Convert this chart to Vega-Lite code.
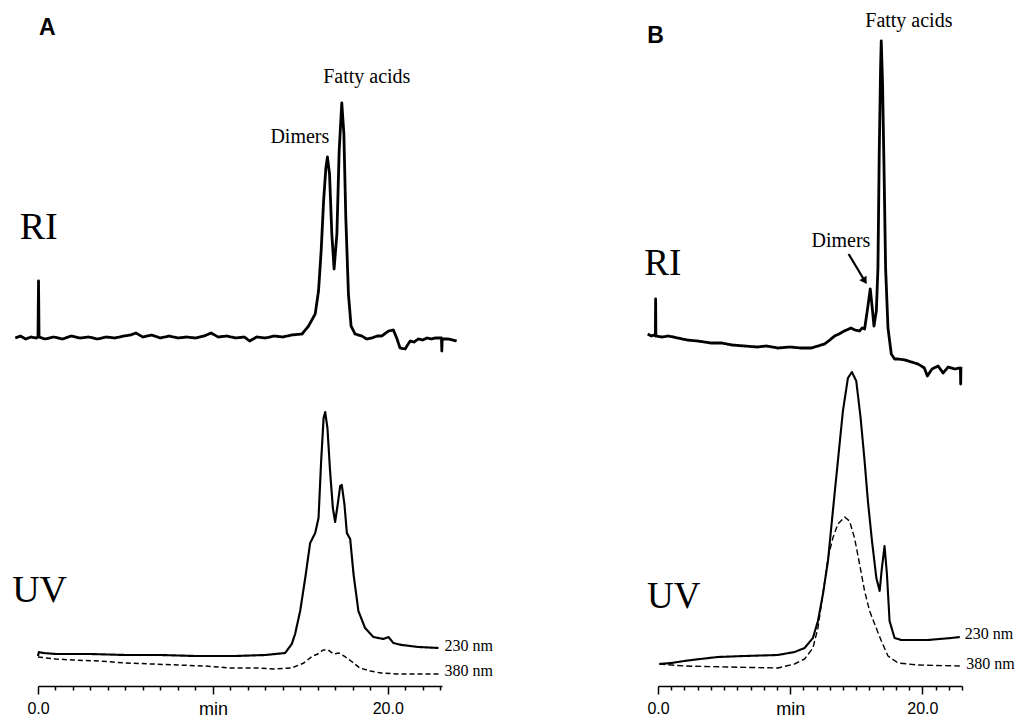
{
  "$schema": "https://vega.github.io/schema/vega-lite/v6.json",
  "background": "white",
  "padding": {"left": 12, "top": 10, "right": 0, "bottom": 0},
  "bounds": "flush",
  "spacing": 216,
  "config": {
    "view": {"stroke": null},
    "axis": {"domainColor": "black", "tickColor": "black", "domainWidth": 1.5, "tickWidth": 1.5, "labelColor": "black", "labelFont": "Liberation Sans", "labelFontSize": 16, "grid": false}
  },
  "resolve": {"scale": {"strokeDash": "independent", "strokeWidth": "independent"}},
  "datasets": {
    "traces": [
      {"panel":"A","trace":"RI","t":-1.3,"v":348},{"panel":"A","trace":"RI","t":-1.0,"v":350},{"panel":"A","trace":"RI","t":-0.7,"v":347},{"panel":"A","trace":"RI","t":-0.4,"v":349},{"panel":"A","trace":"RI","t":-0.1,"v":348},{"panel":"A","trace":"RI","t":0.0,"v":349},{"panel":"A","trace":"RI","t":0.03,"v":405},{"panel":"A","trace":"RI","t":0.06,"v":349},{"panel":"A","trace":"RI","t":0.4,"v":347},{"panel":"A","trace":"RI","t":0.9,"v":349},{"panel":"A","trace":"RI","t":1.4,"v":347},{"panel":"A","trace":"RI","t":1.9,"v":350},{"panel":"A","trace":"RI","t":2.4,"v":348},{"panel":"A","trace":"RI","t":2.9,"v":349},{"panel":"A","trace":"RI","t":3.4,"v":347},{"panel":"A","trace":"RI","t":3.9,"v":349},{"panel":"A","trace":"RI","t":4.4,"v":348},{"panel":"A","trace":"RI","t":4.9,"v":350},{"panel":"A","trace":"RI","t":5.3,"v":351},{"panel":"A","trace":"RI","t":5.6,"v":353},{"panel":"A","trace":"RI","t":6.0,"v":349},{"panel":"A","trace":"RI","t":6.5,"v":351},{"panel":"A","trace":"RI","t":7.0,"v":348},{"panel":"A","trace":"RI","t":7.5,"v":350},{"panel":"A","trace":"RI","t":8.0,"v":348},{"panel":"A","trace":"RI","t":8.5,"v":349},{"panel":"A","trace":"RI","t":9.0,"v":348},{"panel":"A","trace":"RI","t":9.5,"v":350},{"panel":"A","trace":"RI","t":9.9,"v":353},{"panel":"A","trace":"RI","t":10.3,"v":349},{"panel":"A","trace":"RI","t":10.8,"v":350},{"panel":"A","trace":"RI","t":11.3,"v":348},{"panel":"A","trace":"RI","t":11.8,"v":349},{"panel":"A","trace":"RI","t":12.1,"v":345},{"panel":"A","trace":"RI","t":12.5,"v":349},{"panel":"A","trace":"RI","t":13.0,"v":348},{"panel":"A","trace":"RI","t":13.5,"v":350},{"panel":"A","trace":"RI","t":14.0,"v":349},{"panel":"A","trace":"RI","t":14.5,"v":351},{"panel":"A","trace":"RI","t":15.1,"v":352},{"panel":"A","trace":"RI","t":15.47,"v":360},{"panel":"A","trace":"RI","t":15.85,"v":372},{"panel":"A","trace":"RI","t":16.04,"v":395},{"panel":"A","trace":"RI","t":16.19,"v":435},{"panel":"A","trace":"RI","t":16.33,"v":485},{"panel":"A","trace":"RI","t":16.46,"v":518},{"panel":"A","trace":"RI","t":16.55,"v":529},{"panel":"A","trace":"RI","t":16.67,"v":512},{"panel":"A","trace":"RI","t":16.8,"v":452},{"panel":"A","trace":"RI","t":16.93,"v":417},{"panel":"A","trace":"RI","t":17.09,"v":452},{"panel":"A","trace":"RI","t":17.22,"v":535},{"panel":"A","trace":"RI","t":17.37,"v":583},{"panel":"A","trace":"RI","t":17.49,"v":552},{"panel":"A","trace":"RI","t":17.6,"v":468},{"panel":"A","trace":"RI","t":17.75,"v":392},{"panel":"A","trace":"RI","t":17.9,"v":360},{"panel":"A","trace":"RI","t":18.13,"v":352},{"panel":"A","trace":"RI","t":18.51,"v":350},{"panel":"A","trace":"RI","t":18.8,"v":347},{"panel":"A","trace":"RI","t":19.09,"v":348},{"panel":"A","trace":"RI","t":19.4,"v":350},{"panel":"A","trace":"RI","t":19.66,"v":350},{"panel":"A","trace":"RI","t":20.04,"v":355},{"panel":"A","trace":"RI","t":20.32,"v":356},{"panel":"A","trace":"RI","t":20.51,"v":348},{"panel":"A","trace":"RI","t":20.7,"v":338},{"panel":"A","trace":"RI","t":20.99,"v":337},{"panel":"A","trace":"RI","t":21.28,"v":345},{"panel":"A","trace":"RI","t":21.5,"v":344},{"panel":"A","trace":"RI","t":21.75,"v":347},{"panel":"A","trace":"RI","t":22.0,"v":346},{"panel":"A","trace":"RI","t":22.23,"v":348},{"panel":"A","trace":"RI","t":22.5,"v":347},{"panel":"A","trace":"RI","t":22.7,"v":348},{"panel":"A","trace":"RI","t":23.07,"v":348},{"panel":"A","trace":"RI","t":23.09,"v":335},{"panel":"A","trace":"RI","t":23.11,"v":347},{"panel":"A","trace":"RI","t":23.47,"v":347},{"panel":"A","trace":"RI","t":23.94,"v":345},
      {"panel":"A","trace":"230","t":0.0,"v":30},{"panel":"A","trace":"230","t":0.05,"v":34},{"panel":"A","trace":"230","t":0.3,"v":33},{"panel":"A","trace":"230","t":1,"v":32},{"panel":"A","trace":"230","t":3,"v":32},{"panel":"A","trace":"230","t":5,"v":31},{"panel":"A","trace":"230","t":7,"v":31},{"panel":"A","trace":"230","t":9,"v":30},{"panel":"A","trace":"230","t":11.3,"v":30},{"panel":"A","trace":"230","t":13,"v":31},{"panel":"A","trace":"230","t":14.13,"v":33},{"panel":"A","trace":"230","t":14.51,"v":42},{"panel":"A","trace":"230","t":14.7,"v":52},{"panel":"A","trace":"230","t":14.99,"v":75},{"panel":"A","trace":"230","t":15.28,"v":108},{"panel":"A","trace":"230","t":15.56,"v":143},{"panel":"A","trace":"230","t":15.85,"v":153},{"panel":"A","trace":"230","t":16.04,"v":168},{"panel":"A","trace":"230","t":16.19,"v":225},{"panel":"A","trace":"230","t":16.33,"v":268},{"panel":"A","trace":"230","t":16.42,"v":274},{"panel":"A","trace":"230","t":16.55,"v":258},{"panel":"A","trace":"230","t":16.7,"v":215},{"panel":"A","trace":"230","t":16.86,"v":178},{"panel":"A","trace":"230","t":16.99,"v":164},{"panel":"A","trace":"230","t":17.14,"v":182},{"panel":"A","trace":"230","t":17.28,"v":200},{"panel":"A","trace":"230","t":17.37,"v":201},{"panel":"A","trace":"230","t":17.52,"v":182},{"panel":"A","trace":"230","t":17.66,"v":153},{"panel":"A","trace":"230","t":17.85,"v":147},{"panel":"A","trace":"230","t":18.04,"v":112},{"panel":"A","trace":"230","t":18.32,"v":75},{"panel":"A","trace":"230","t":18.7,"v":58},{"panel":"A","trace":"230","t":19.18,"v":49},{"panel":"A","trace":"230","t":19.75,"v":47},{"panel":"A","trace":"230","t":20.04,"v":49},{"panel":"A","trace":"230","t":20.32,"v":43},{"panel":"A","trace":"230","t":20.8,"v":41},{"panel":"A","trace":"230","t":21.75,"v":39},{"panel":"A","trace":"230","t":22.9,"v":38},
      {"panel":"A","trace":"380","t":0,"v":29},{"panel":"A","trace":"380","t":1,"v":27},{"panel":"A","trace":"380","t":2,"v":26},{"panel":"A","trace":"380","t":3.5,"v":25},{"panel":"A","trace":"380","t":5,"v":23},{"panel":"A","trace":"380","t":6.5,"v":22},{"panel":"A","trace":"380","t":8,"v":21},{"panel":"A","trace":"380","t":9.5,"v":20},{"panel":"A","trace":"380","t":11,"v":18},{"panel":"A","trace":"380","t":12.5,"v":18},{"panel":"A","trace":"380","t":13.5,"v":17},{"panel":"A","trace":"380","t":14.5,"v":18},{"panel":"A","trace":"380","t":15.2,"v":23},{"panel":"A","trace":"380","t":15.7,"v":30},{"panel":"A","trace":"380","t":16.0,"v":32},{"panel":"A","trace":"380","t":16.3,"v":36},{"panel":"A","trace":"380","t":16.6,"v":36},{"panel":"A","trace":"380","t":16.9,"v":32},{"panel":"A","trace":"380","t":17.2,"v":33},{"panel":"A","trace":"380","t":17.5,"v":30},{"panel":"A","trace":"380","t":17.9,"v":25},{"panel":"A","trace":"380","t":18.4,"v":18},{"panel":"A","trace":"380","t":19.0,"v":15},{"panel":"A","trace":"380","t":19.6,"v":13},{"panel":"A","trace":"380","t":20.5,"v":12},{"panel":"A","trace":"380","t":21.5,"v":12},{"panel":"A","trace":"380","t":22.9,"v":12},
      {"panel":"B","trace":"RI","t":-0.78,"v":352},{"panel":"B","trace":"RI","t":-0.5,"v":350},{"panel":"B","trace":"RI","t":-0.3,"v":351},{"panel":"B","trace":"RI","t":-0.2,"v":350},{"panel":"B","trace":"RI","t":-0.18,"v":387},{"panel":"B","trace":"RI","t":-0.16,"v":350},{"panel":"B","trace":"RI","t":0.3,"v":349},{"panel":"B","trace":"RI","t":0.8,"v":350},{"panel":"B","trace":"RI","t":1.49,"v":348},{"panel":"B","trace":"RI","t":2.2,"v":346},{"panel":"B","trace":"RI","t":3.0,"v":345},{"panel":"B","trace":"RI","t":4.0,"v":343},{"panel":"B","trace":"RI","t":4.8,"v":343},{"panel":"B","trace":"RI","t":5.6,"v":341},{"panel":"B","trace":"RI","t":6.54,"v":340},{"panel":"B","trace":"RI","t":7.5,"v":339},{"panel":"B","trace":"RI","t":8.2,"v":340},{"panel":"B","trace":"RI","t":9.07,"v":338},{"panel":"B","trace":"RI","t":10.0,"v":339},{"panel":"B","trace":"RI","t":10.8,"v":338},{"panel":"B","trace":"RI","t":11.6,"v":338},{"panel":"B","trace":"RI","t":12.1,"v":340},{"panel":"B","trace":"RI","t":12.6,"v":342},{"panel":"B","trace":"RI","t":13.0,"v":346},{"panel":"B","trace":"RI","t":13.36,"v":350},{"panel":"B","trace":"RI","t":13.7,"v":352},{"panel":"B","trace":"RI","t":14.1,"v":355},{"panel":"B","trace":"RI","t":14.6,"v":358},{"panel":"B","trace":"RI","t":14.9,"v":356},{"panel":"B","trace":"RI","t":15.25,"v":355},{"panel":"B","trace":"RI","t":15.45,"v":358},{"panel":"B","trace":"RI","t":15.63,"v":357},{"panel":"B","trace":"RI","t":15.83,"v":375},{"panel":"B","trace":"RI","t":16.06,"v":397},{"panel":"B","trace":"RI","t":16.21,"v":378},{"panel":"B","trace":"RI","t":16.34,"v":360},{"panel":"B","trace":"RI","t":16.52,"v":375},{"panel":"B","trace":"RI","t":16.64,"v":418},{"panel":"B","trace":"RI","t":16.74,"v":535},{"panel":"B","trace":"RI","t":16.84,"v":618},{"panel":"B","trace":"RI","t":16.89,"v":645},{"panel":"B","trace":"RI","t":16.99,"v":602},{"panel":"B","trace":"RI","t":17.1,"v":518},{"panel":"B","trace":"RI","t":17.22,"v":418},{"panel":"B","trace":"RI","t":17.4,"v":358},{"panel":"B","trace":"RI","t":17.65,"v":332},{"panel":"B","trace":"RI","t":17.9,"v":327},{"panel":"B","trace":"RI","t":18.16,"v":327},{"panel":"B","trace":"RI","t":18.7,"v":326},{"panel":"B","trace":"RI","t":19.17,"v":324},{"panel":"B","trace":"RI","t":19.67,"v":322},{"panel":"B","trace":"RI","t":19.92,"v":320},{"panel":"B","trace":"RI","t":20.15,"v":318},{"panel":"B","trace":"RI","t":20.38,"v":310},{"panel":"B","trace":"RI","t":20.73,"v":317},{"panel":"B","trace":"RI","t":21.19,"v":320},{"panel":"B","trace":"RI","t":21.57,"v":313},{"panel":"B","trace":"RI","t":21.95,"v":319},{"panel":"B","trace":"RI","t":22.45,"v":317},{"panel":"B","trace":"RI","t":22.83,"v":318},{"panel":"B","trace":"RI","t":22.88,"v":318},{"panel":"B","trace":"RI","t":22.9,"v":302},{"panel":"B","trace":"RI","t":22.92,"v":319},
      {"panel":"B","trace":"230","t":0.1,"v":22},{"panel":"B","trace":"230","t":1.0,"v":23},{"panel":"B","trace":"230","t":1.99,"v":25},{"panel":"B","trace":"230","t":3.2,"v":27},{"panel":"B","trace":"230","t":4.52,"v":29},{"panel":"B","trace":"230","t":6.54,"v":30},{"panel":"B","trace":"230","t":9.07,"v":31},{"panel":"B","trace":"230","t":10.33,"v":34},{"panel":"B","trace":"230","t":11.09,"v":38},{"panel":"B","trace":"230","t":11.72,"v":48},{"panel":"B","trace":"230","t":12.1,"v":65},{"panel":"B","trace":"230","t":12.48,"v":92},{"panel":"B","trace":"230","t":12.86,"v":125},{"panel":"B","trace":"230","t":13.23,"v":175},{"panel":"B","trace":"230","t":13.61,"v":225},{"panel":"B","trace":"230","t":13.99,"v":275},{"panel":"B","trace":"230","t":14.37,"v":308},{"panel":"B","trace":"230","t":14.67,"v":314},{"panel":"B","trace":"230","t":15.0,"v":305},{"panel":"B","trace":"230","t":15.33,"v":268},{"panel":"B","trace":"230","t":15.63,"v":225},{"panel":"B","trace":"230","t":15.88,"v":185},{"panel":"B","trace":"230","t":16.19,"v":145},{"panel":"B","trace":"230","t":16.52,"v":108},{"panel":"B","trace":"230","t":16.77,"v":95},{"panel":"B","trace":"230","t":16.94,"v":118},{"panel":"B","trace":"230","t":17.14,"v":140},{"panel":"B","trace":"230","t":17.32,"v":112},{"panel":"B","trace":"230","t":17.52,"v":65},{"panel":"B","trace":"230","t":17.9,"v":48},{"panel":"B","trace":"230","t":18.41,"v":46},{"panel":"B","trace":"230","t":20.43,"v":46},{"panel":"B","trace":"230","t":22.2,"v":48},{"panel":"B","trace":"230","t":22.83,"v":49},
      {"panel":"B","trace":"380","t":0.1,"v":22},{"panel":"B","trace":"380","t":1.99,"v":20},{"panel":"B","trace":"380","t":5.28,"v":19},{"panel":"B","trace":"380","t":9.07,"v":18},{"panel":"B","trace":"380","t":10.33,"v":22},{"panel":"B","trace":"380","t":11.09,"v":27},{"panel":"B","trace":"380","t":11.72,"v":38},{"panel":"B","trace":"380","t":12.1,"v":58},{"panel":"B","trace":"380","t":12.48,"v":92},{"panel":"B","trace":"380","t":12.86,"v":128},{"panel":"B","trace":"380","t":13.23,"v":148},{"panel":"B","trace":"380","t":13.61,"v":162},{"panel":"B","trace":"380","t":14.12,"v":169},{"panel":"B","trace":"380","t":14.49,"v":165},{"panel":"B","trace":"380","t":14.87,"v":148},{"panel":"B","trace":"380","t":15.25,"v":122},{"panel":"B","trace":"380","t":15.63,"v":95},{"panel":"B","trace":"380","t":16.01,"v":75},{"panel":"B","trace":"380","t":16.39,"v":62},{"panel":"B","trace":"380","t":16.9,"v":45},{"panel":"B","trace":"380","t":17.4,"v":30},{"panel":"B","trace":"380","t":18.16,"v":23},{"panel":"B","trace":"380","t":19.67,"v":21},{"panel":"B","trace":"380","t":22.83,"v":20}
    ],
    "labels": [
      {"panel":"A","kind":"peak","text":"Dimers","t":14.97,"v":543},
      {"panel":"A","kind":"peak","text":"Fatty acids","t":18.8,"v":603},
      {"panel":"A","kind":"det","text":"RI","t":0.04,"v":447},
      {"panel":"A","kind":"det","text":"UV","t":0.09,"v":84},
      {"panel":"A","kind":"nm","text":"230 nm","t":23.24,"v":40},
      {"panel":"A","kind":"nm","text":"380 nm","t":23.24,"v":15},
      {"panel":"A","kind":"letter","text":"A","t":0.53,"v":651},
      {"panel":"B","kind":"peak","text":"Dimers","t":13.84,"v":439},
      {"panel":"B","kind":"peak","text":"Fatty acids","t":18.98,"v":659},
      {"panel":"B","kind":"det","text":"RI","t":0.36,"v":411},
      {"panel":"B","kind":"det","text":"UV","t":1.19,"v":78},
      {"panel":"B","kind":"nm","text":"230 nm","t":23.2,"v":52},
      {"panel":"B","kind":"nm","text":"380 nm","t":23.33,"v":22},
      {"panel":"B","kind":"letter","text":"B","t":-0.19,"v":643}
    ],
    "arrows": [
      {"panel":"B","t":14.42,"v":432,"t2":15.6,"v2":406}
    ],
    "arrowheads": [
      {"panel":"B","t":15.6,"v":406}
    ]
  },
  "hconcat": [
    {
      "width": 404,
      "height": 675,
      "encoding": {
        "x": {"field": "t", "type": "quantitative", "scale": {"domain": [0, 23.1], "nice": false, "zero": false},
          "axis": {"values": [0,1,2,3,4,5,6,7,8,9,10,11,12,13,14,15,16,17,18,19,20,21,22,23], "title": null, "labelExpr": "datum.value === 0 ? '0.0' : datum.value === 20 ? '20.0' : datum.value === 10 ? 'min' : ''", "labelFontSize": {"condition": {"test": "datum.value === 10", "value": 18}, "value": 16}, "tickSize": {"condition": {"test": "datum.value % 10 === 0", "value": 8}, "value": 4}, "labelPadding": 6, "labelOverlap": false, "labelBound": false, "labelFlush": false}},
        "y": {"field": "v", "type": "quantitative", "scale": {"domain": [0, 675], "nice": false, "zero": false}, "axis": null}
      },
      "layer": [
        {
          "data": {"name": "traces"},
          "transform": [{"filter": "datum.panel === 'A'"}],
          "mark": {"type": "line", "color": "black", "strokeJoin": "round", "strokeCap": "butt"},
          "encoding": {
            "detail": {"field": "trace"},
            "strokeDash": {"field": "trace", "type": "nominal", "scale": {"domain": ["RI", "230", "380"], "range": [[1, 0], [1, 0], [5, 3]]}, "legend": null},
            "strokeWidth": {"field": "trace", "type": "nominal", "scale": {"domain": ["RI", "230", "380"], "range": [2.8, 1.5, 1.3]}, "legend": null}
          }
        },
        {
          "data": {"name": "labels"},
          "transform": [{"filter": "datum.panel === 'A' && datum.kind === 'peak'"}],
          "mark": {"type": "text", "font": "Liberation Serif", "fontSize": 20, "align": "center", "baseline": "alphabetic", "color": "black"},
          "encoding": {"text": {"field": "text"}}
        },
        {
          "data": {"name": "labels"},
          "transform": [{"filter": "datum.panel === 'A' && datum.kind === 'det'"}],
          "mark": {"type": "text", "font": "Liberation Serif", "fontSize": 38, "align": "center", "baseline": "alphabetic", "color": "black"},
          "encoding": {"text": {"field": "text"}}
        },
        {
          "data": {"name": "labels"},
          "transform": [{"filter": "datum.panel === 'A' && datum.kind === 'nm'"}],
          "mark": {"type": "text", "font": "Liberation Serif", "fontSize": 16, "align": "left", "baseline": "middle", "color": "black"},
          "encoding": {"text": {"field": "text"}}
        },
        {
          "data": {"name": "labels"},
          "transform": [{"filter": "datum.panel === 'A' && datum.kind === 'letter'"}],
          "mark": {"type": "text", "font": "Liberation Sans", "fontSize": 23, "fontWeight": "bold", "align": "center", "baseline": "alphabetic", "color": "black"},
          "encoding": {"text": {"field": "text"}}
        }
      ]
    },
    {
      "width": 304,
      "height": 675,
      "encoding": {
        "x": {"field": "t", "type": "quantitative", "scale": {"domain": [0, 23.0], "nice": false, "zero": false},
          "axis": {"values": [0,1,2,3,4,5,6,7,8,9,10,11,12,13,14,15,16,17,18,19,20,21,22,23], "title": null, "labelExpr": "datum.value === 0 ? '0.0' : datum.value === 20 ? '20.0' : datum.value === 10 ? 'min' : ''", "labelFontSize": {"condition": {"test": "datum.value === 10", "value": 18}, "value": 16}, "tickSize": {"condition": {"test": "datum.value % 10 === 0", "value": 8}, "value": 4}, "labelPadding": 6, "labelOverlap": false, "labelBound": false, "labelFlush": false}},
        "y": {"field": "v", "type": "quantitative", "scale": {"domain": [0, 675], "nice": false, "zero": false}, "axis": null}
      },
      "layer": [
        {
          "data": {"name": "traces"},
          "transform": [{"filter": "datum.panel === 'B'"}],
          "mark": {"type": "line", "color": "black", "strokeJoin": "round", "strokeCap": "butt"},
          "encoding": {
            "detail": {"field": "trace"},
            "strokeDash": {"field": "trace", "type": "nominal", "scale": {"domain": ["RI", "230", "380"], "range": [[1, 0], [1, 0], [6, 3]]}, "legend": null},
            "strokeWidth": {"field": "trace", "type": "nominal", "scale": {"domain": ["RI", "230", "380"], "range": [2.8, 1.4, 1.3]}, "legend": null}
          }
        },
        {
          "data": {"name": "arrows"},
          "mark": {"type": "rule", "color": "black", "strokeWidth": 2.2},
          "encoding": {"x2": {"field": "t2"}, "y2": {"field": "v2"}}
        },
        {
          "data": {"name": "arrowheads"},
          "mark": {"type": "point", "shape": "triangle", "angle": 148, "size": 70, "filled": true, "color": "black", "opacity": 1},
          "encoding": {}
        },
        {
          "data": {"name": "labels"},
          "transform": [{"filter": "datum.panel === 'B' && datum.kind === 'peak'"}],
          "mark": {"type": "text", "font": "Liberation Serif", "fontSize": 20, "align": "center", "baseline": "alphabetic", "color": "black"},
          "encoding": {"text": {"field": "text"}}
        },
        {
          "data": {"name": "labels"},
          "transform": [{"filter": "datum.panel === 'B' && datum.kind === 'det'"}],
          "mark": {"type": "text", "font": "Liberation Serif", "fontSize": 37, "align": "center", "baseline": "alphabetic", "color": "black"},
          "encoding": {"text": {"field": "text"}}
        },
        {
          "data": {"name": "labels"},
          "transform": [{"filter": "datum.panel === 'B' && datum.kind === 'nm'"}],
          "mark": {"type": "text", "font": "Liberation Serif", "fontSize": 16, "align": "left", "baseline": "middle", "color": "black"},
          "encoding": {"text": {"field": "text"}}
        },
        {
          "data": {"name": "labels"},
          "transform": [{"filter": "datum.panel === 'B' && datum.kind === 'letter'"}],
          "mark": {"type": "text", "font": "Liberation Sans", "fontSize": 23, "fontWeight": "bold", "align": "center", "baseline": "alphabetic", "color": "black"},
          "encoding": {"text": {"field": "text"}}
        }
      ]
    }
  ]
}
